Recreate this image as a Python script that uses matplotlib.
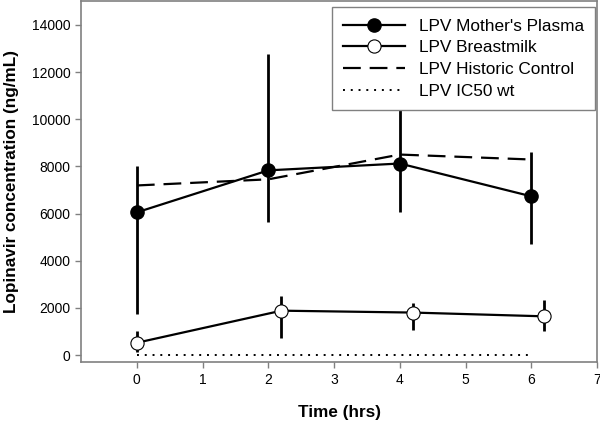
import matplotlib
matplotlib.use("Agg")
import matplotlib.pyplot as plt

plt.rcParams['font.family'] = ['Liberation Sans', 'DejaVu Sans']

# Mother's plasma (mean, upper/lower error ends)
plasma_t = [0, 2, 4, 6]
plasma = [6050, 7830, 8120, 6730]
plasma_hi = [8030, 12770, 11500, 8590]
plasma_lo = [1730, 5620, 6050, 4700]

# Breastmilk (plotted with small offset in time)
milk_t = [0, 2.2, 4.2, 6.2]
milk = [520, 1880, 1800, 1640]
milk_hi = [1000, 2520, 2220, 2330]
milk_lo = [130, 740, 1080, 1000]

# Historic control
hist_t = [0, 2, 4, 6]
hist = [7190, 7450, 8500, 8290]

# IC50 wild type
ic50_t = [0, 6]
ic50 = [0, 0]

fig = plt.figure(figsize=(6, 4.23), dpi=100)
ax = fig.add_axes([0.135, 0.144, 0.86, 0.853])

lw = 1.6
ax.plot(hist_t, hist, color='black', lw=lw, dashes=(8, 4), label='LPV Historic Control', zorder=2)
ax.plot(ic50_t, ic50, color='black', lw=1.4, ls=(0, (1, 3)), label='LPV IC50 wt', zorder=2)

ax.errorbar(plasma_t, plasma,
            yerr=[[m - l for m, l in zip(plasma, plasma_lo)], [h - m for m, h in zip(plasma, plasma_hi)]],
            fmt='none', ecolor='black', elinewidth=2.0, capsize=0, zorder=3)
ax.plot(plasma_t, plasma, color='black', lw=lw, marker='o', markersize=9.5,
        markerfacecolor='black', markeredgecolor='black', label="LPV Mother's Plasma", zorder=4)

ax.errorbar(milk_t, milk,
            yerr=[[m - l for m, l in zip(milk, milk_lo)], [h - m for m, h in zip(milk, milk_hi)]],
            fmt='none', ecolor='black', elinewidth=2.0, capsize=0, zorder=3)
ax.plot(milk_t, milk, color='black', lw=lw, marker='o', markersize=9.5,
        markerfacecolor='white', markeredgecolor='black', markeredgewidth=0.8,
        label='LPV Breastmilk', zorder=4)

ax.set_xlim(-0.85, 7.0)
ax.set_ylim(-300, 15000)
ax.set_xticks(range(0, 8))
ax.set_yticks(range(0, 14001, 2000))
ax.tick_params(colors='#808080', labelcolor='black', labelsize=10, length=4, width=1)
for s in ax.spines.values():
    s.set_color('#808080')
    s.set_linewidth(1.2)

ax.set_xlabel('Time (hrs)', fontsize=12.3, fontweight='bold', labelpad=13)
ax.set_ylabel('Lopinavir concentration (ng/mL)', fontsize=12.3, fontweight='bold', labelpad=9)

handles, labels = ax.get_legend_handles_labels()
order = [labels.index(n) for n in ["LPV Mother's Plasma", 'LPV Breastmilk', 'LPV Historic Control', 'LPV IC50 wt']]
leg = ax.legend([handles[i] for i in order], [labels[i] for i in order],
                loc='upper right', bbox_to_anchor=(0.997, 0.983), fontsize=12.4,
                handlelength=3.6, fancybox=False, framealpha=1, edgecolor='#808080',
                borderaxespad=0, labelspacing=0.39, handletextpad=0.8, borderpad=0.65)
leg.set_zorder(10)
leg.get_frame().set_linewidth(1.0)

fig.savefig('out.png', dpi=100)
